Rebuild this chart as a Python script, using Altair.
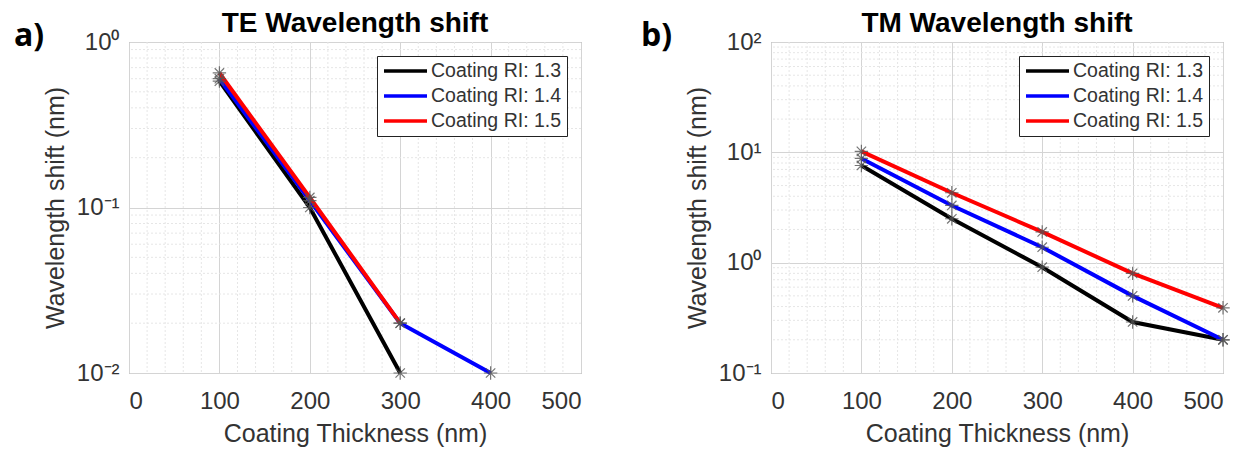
import altair as alt
import pandas as pd

# ---------------- data ----------------
thickness = [100, 200, 300, 400, 500]
series = ["Coating RI: 1.3", "Coating RI: 1.4", "Coating RI: 1.5"]
colors = ["#000000", "#0000ff", "#ff0000"]

te_13 = [0.58, 0.10, 0.01]
te_14 = [0.60, 0.11, 0.02, 0.01]
te_15 = [0.65, 0.115, 0.02]

tm_13 = [7.6, 2.5, 0.91, 0.29, 0.20]
tm_14 = [8.8, 3.3, 1.38, 0.50, 0.20]
tm_15 = [10.2, 4.3, 1.90, 0.80, 0.39]

titles = ["TE Wavelength shift", "TM Wavelength shift"]
panel_tags = ["a)", "b)"]
x_title = "Coating Thickness (nm)"
y_title = "Wavelength shift (nm)"

x_ticks = [0, 100, 200, 300, 400, 500]
te_domain = [0.01, 1]
tm_domain = [0.1, 100]
te_majors = [0.01, 0.1, 1]
tm_majors = [0.1, 1, 10, 100]
te_major_labels = ["10\u207b\u00b2", "10\u207b\u00b9", "10\u2070"]
tm_major_labels = ["10\u207b\u00b9", "10\u2070", "10\u00b9", "10\u00b2"]

FONT = "Liberation Sans"
ASTERISK = "M-1,0L1,0M0,-1L0,1M-0.7,-0.7L0.7,0.7M-0.7,0.7L0.7,-0.7"
MINOR_GRID = "#e6e6e6"
MAJOR_GRID = "#d4d4d4"


def long_df(lists):
    rows = []
    for name, vals in zip(series, lists):
        for t, v in zip(thickness, vals):
            rows.append({"thickness": t, "shift": v, "series": name})
    return pd.DataFrame(rows)


def x_minor_values():
    return [v for v in range(20, 500, 20) if v % 100 != 0]


def y_minor_values(majors):
    vals = []
    for m in majors[:-1]:
        for k in range(2, 10):
            vals.append(round(m * k, 10))
    return vals


def label_expr(majors, labels):
    expr = "''"
    for m, l in reversed(list(zip(majors, labels))):
        expr = f"abs(datum.value - {m}) < {m}*1e-6 ? '{l}' : ({expr})"
    return expr


def panel(lists, domain, majors, labels, title, tag, tag_x):
    df = long_df(lists)

    x_scale = alt.Scale(domain=[0, 500], nice=False)
    y_scale = alt.Scale(type="log", domain=domain, nice=False)

    x_enc = alt.X(
        "thickness:Q",
        scale=x_scale,
        axis=alt.Axis(
            title=x_title,
            values=x_ticks,
            format="d",
            ticks=False,
            domain=False,
            labelPadding=16,
            labelFontSize=24,
            labelFont=FONT,
            labelColor="#333333",
            titleFont=FONT,
            titleFontSize=25,
            titleFontWeight="normal",
            titleColor="#333333",
            titlePadding=8,
            labelOverlap=False,
            gridColor=MAJOR_GRID,
            gridWidth=1,
        ),
    )
    y_enc = alt.Y(
        "shift:Q",
        scale=y_scale,
        axis=alt.Axis(
            title=y_title,
            values=majors,
            labelExpr=label_expr(majors, labels),
            ticks=False,
            domain=False,
            labelPadding=10,
            labelFontSize=24,
            labelFont=FONT,
            labelColor="#333333",
            titleFont=FONT,
            titleFontSize=25,
            titleFontWeight="normal",
            titleColor="#333333",
            titlePadding=8,
            labelOverlap=False,
            gridColor=MAJOR_GRID,
            gridWidth=1,
        ),
    )

    xgrid = alt.Chart(pd.DataFrame({"gx": x_minor_values()})).mark_rule(
        color=MINOR_GRID, strokeWidth=1, strokeDash=[2, 2]
    ).encode(x=alt.X("gx:Q", scale=x_scale))
    ygrid = alt.Chart(pd.DataFrame({"gy": y_minor_values(majors)})).mark_rule(
        color=MINOR_GRID, strokeWidth=1, strokeDash=[2, 2]
    ).encode(y=alt.Y("gy:Q", scale=y_scale))

    lines = alt.Chart(df).mark_line(strokeWidth=4).encode(
        x=x_enc,
        y=y_enc,
        color=alt.Color(
            "series:N",
            scale=alt.Scale(domain=series, range=colors),
            legend=alt.Legend(
                title=None,
                orient="top-right",
                offset=14,
                fillColor="white",
                strokeColor="#222222",
                padding=5,
                symbolType="stroke",
                symbolSize=1849,
                symbolStrokeWidth=3.5,
                clipHeight=20,
                rowPadding=5,
                labelFontSize=19.5,
                labelFont=FONT,
                labelColor="#333333",
                labelOffset=2,
                cornerRadius=0,
            ),
        ),
        order=alt.Order("thickness:Q"),
    )

    points = alt.Chart(df).mark_point(
        shape=ASTERISK, filled=False, size=180, stroke="#555555", strokeWidth=1.2, opacity=0.8
    ).encode(x="thickness:Q", y="shift:Q")

    tag_df = pd.DataFrame({"tag": [tag]})
    tag_mark = alt.Chart(tag_df).mark_text(
        font="Open Sans", fontSize=32, fontWeight="bold", align="left", baseline="middle", color="black"
    ).encode(text="tag:N", x=alt.value(tag_x), y=alt.value(-6))

    return alt.layer(xgrid, ygrid, lines, points, tag_mark).properties(
        width=452,
        height=331,
        title=alt.TitleParams(
            text=title, fontSize=28, fontWeight="bold", font=FONT, color="black",
            offset=-18, anchor="middle", frame="group",
        ),
    )


pa = panel([te_13, te_14, te_15], te_domain, te_majors, te_major_labels, titles[0], panel_tags[0], -115)
pb = panel([tm_13, tm_14, tm_15], tm_domain, tm_majors, tm_major_labels, titles[1], panel_tags[1], -130)

chart = (
    alt.hconcat(pa, pb, spacing=58)
    .resolve_scale(color="independent", x="independent", y="independent")
    .resolve_legend(color="independent")
    .properties(padding={"left": 5, "top": 1, "right": 0, "bottom": 0}, background="white")
    .configure_view(stroke="#8c8c8c", strokeWidth=1)
)

chart.save("out.html", embed_options={"renderer": "svg", "actions": False})
